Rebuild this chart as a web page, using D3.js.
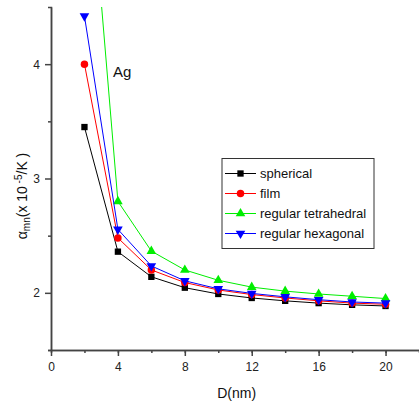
<!DOCTYPE html>
<html>
<head>
<meta charset="utf-8">
<script src="https://cdn.jsdelivr.net/npm/d3@7"></script>
<style>
  body { margin: 0; background: #fff; }
  svg { display: block; font-family: "Liberation Sans", Arial, sans-serif; }
</style>
</head>
<body>
<svg id="chart" width="419" height="405"></svg>
<script>
"use strict";

const sizes = [2, 4, 6, 8, 10, 12, 14, 16, 18, 20];
const spherical = [3.45, 2.36, 2.14, 2.045, 1.99, 1.955, 1.93, 1.91, 1.895, 1.885];
const film = [4.0, 2.48, 2.20, 2.09, 2.025, 1.985, 1.955, 1.93, 1.91, 1.90];
const tetrahedral = [6.3, 2.80, 2.365, 2.20, 2.11, 2.05, 2.015, 1.99, 1.97, 1.95];
const hexagonal = [4.42, 2.555, 2.235, 2.105, 2.035, 1.995, 1.965, 1.94, 1.92, 1.91];
const seriesNames = ["spherical", "film", "regular tetrahedral", "regular hexagonal"];
const xTicks = [0, 4, 8, 12, 16, 20];
const yTicks = [2, 3, 4];

const series = [
  { name: seriesNames[0], values: spherical, color: "#000000", symbol: d3.symbolSquare, size: 40, rot: 0 },
  { name: seriesNames[1], values: film, color: "#ff0000", symbol: d3.symbolCircle, size: 44, rot: 0 },
  { name: seriesNames[2], values: tetrahedral, color: "#00ee00", symbol: d3.symbolTriangle, size: 40, rot: 0 },
  { name: seriesNames[3], values: hexagonal, color: "#0000ff", symbol: d3.symbolTriangle, size: 40, rot: 180 }
];

const svg = d3.select("#chart");
const plotLeft = 51, plotRight = 419, plotTop = 7, plotBottom = 350;

const x = d3.scaleLinear().domain([0, 22]).range([plotLeft, plotRight]);
const y = d3.scaleLinear().domain([1.5, 4.5]).range([plotBottom, plotTop]);

svg.append("defs").append("clipPath").attr("id", "plot")
  .append("rect").attr("x", plotLeft).attr("y", plotTop)
  .attr("width", plotRight - plotLeft).attr("height", plotBottom - plotTop);

const axisColor = "#444";

// x axis
const xAxis = svg.append("g").attr("transform", `translate(0,${plotBottom})`);
xAxis.call(d3.axisBottom(x).tickValues(d3.range(2, 22, 2)).tickSize(3).tickFormat(""));
xAxis.call(g => g.append("g").call(d3.axisBottom(x).tickValues(xTicks).tickSize(6).tickSizeOuter(0).tickPadding(6).tickFormat(d3.format("d"))));
xAxis.selectAll(".domain").attr("stroke", axisColor).attr("stroke-width", 1.5);
xAxis.selectAll("line").attr("stroke", axisColor).attr("stroke-width", 1.5);
xAxis.selectAll("text").attr("font-size", 12).attr("fill", "#222").attr("font-family", "Liberation Sans, Arial, sans-serif");

// y axis
const yAxis = svg.append("g").attr("transform", `translate(${plotLeft},0)`);
yAxis.call(d3.axisLeft(y).tickValues([1.5, 2.5, 3.5]).tickSize(3).tickFormat(""));
yAxis.call(g => g.append("g").call(d3.axisLeft(y).tickValues(yTicks).tickSize(6).tickSizeOuter(0).tickPadding(5).tickFormat(d3.format("d"))));
yAxis.selectAll(".domain").attr("stroke", axisColor).attr("stroke-width", 1.5);
yAxis.selectAll("line").attr("stroke", axisColor).attr("stroke-width", 1.5);
yAxis.selectAll("text").attr("font-size", 12).attr("fill", "#222").attr("font-family", "Liberation Sans, Arial, sans-serif");

// series
const plot = svg.append("g").attr("clip-path", "url(#plot)");
const line = d3.line().x((d, i) => x(sizes[i])).y(d => y(d));

series.forEach(s => {
  plot.append("path")
    .attr("d", line(s.values))
    .attr("fill", "none")
    .attr("stroke", s.color)
    .attr("stroke-width", 1);
  plot.selectAll(null)
    .data(s.values)
    .join("path")
    .attr("d", d3.symbol(s.symbol, s.size))
    .attr("transform", (d, i) => `translate(${x(sizes[i])},${y(d)}) rotate(${s.rot})`)
    .attr("fill", s.color);
});

// legend
const legend = svg.append("g");
legend.append("rect")
  .attr("x", 222).attr("y", 158.5).attr("width", 152).attr("height", 90)
  .attr("fill", "#fff").attr("stroke", "#333").attr("stroke-width", 1);
series.forEach((s, i) => {
  const ly = 173.5 + i * 20;
  legend.append("line")
    .attr("x1", 225).attr("x2", 256).attr("y1", ly).attr("y2", ly)
    .attr("stroke", s.color).attr("stroke-width", 1);
  legend.append("path")
    .attr("d", d3.symbol(s.symbol, s.size))
    .attr("transform", `translate(240.5,${ly}) rotate(${s.rot})`)
    .attr("fill", s.color);
  legend.append("text")
    .attr("x", 260).attr("y", ly + 4.5)
    .attr("font-size", 13).attr("fill", "#111")
    .text(s.name);
});

// annotation
svg.append("text").attr("x", 113).attr("y", 77).attr("font-size", 15).attr("fill", "#111").text("Ag");

// axis titles
svg.append("text")
  .attr("x", x(11.1)).attr("y", 398)
  .attr("text-anchor", "middle").attr("font-size", 14).attr("fill", "#111")
  .text("D(nm)");

const yTitle = svg.append("text")
  .attr("transform", "translate(27,196) rotate(-90)")
  .attr("text-anchor", "middle").attr("font-size", 14).attr("fill", "#111");
yTitle.append("tspan").text("\u03b1");
yTitle.append("tspan").attr("font-size", 10).attr("dy", 3).text("mn");
yTitle.append("tspan").attr("dy", -3).text("(x 10");
yTitle.append("tspan").attr("font-size", 10).attr("dy", -5).text(" -5");
yTitle.append("tspan").attr("dy", 5).text("/K )");
</script>
</body>
</html>
